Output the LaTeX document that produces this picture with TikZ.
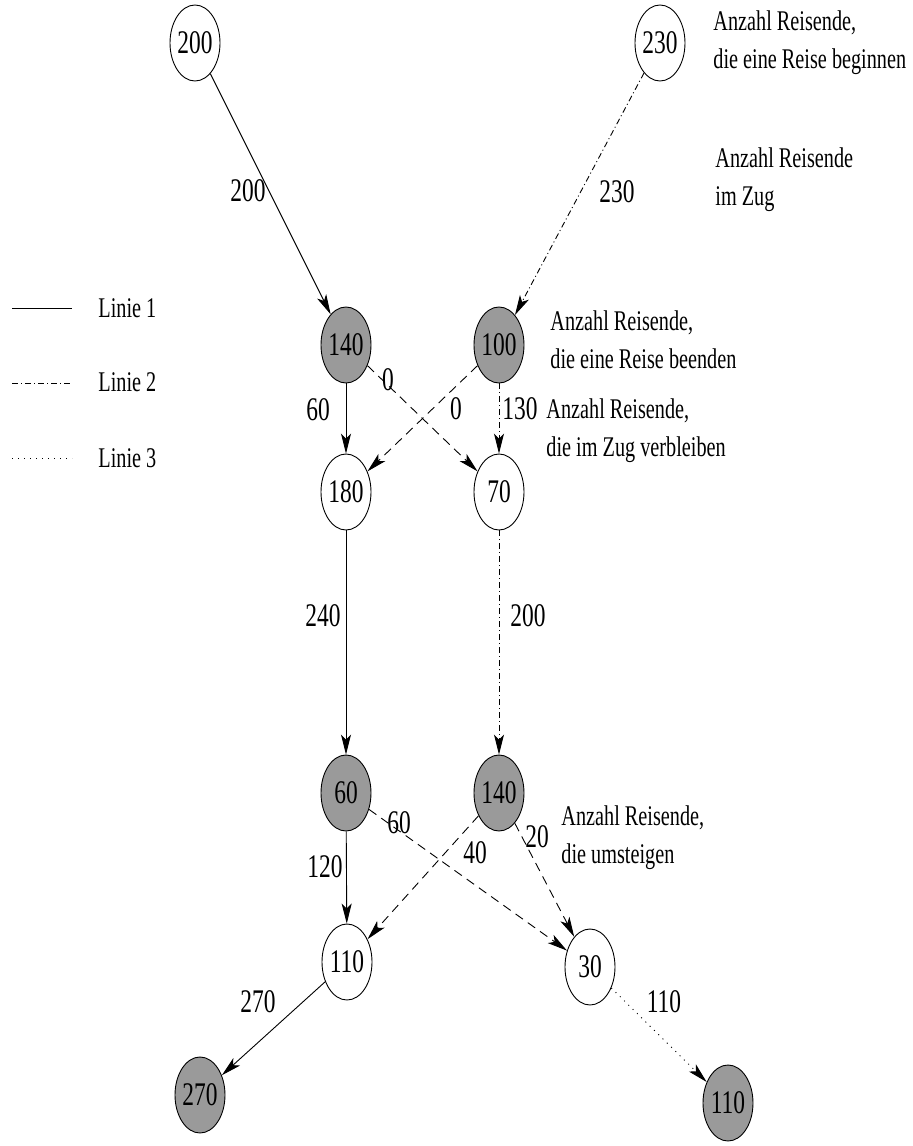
\documentclass[tikz,border=0pt]{standalone}
\usepackage{fontspec}
\setmainfont{Liberation Serif}[FakeStretch=0.71]
\usetikzlibrary{shapes.geometric,arrows.meta}
\definecolor{halt}{RGB}{154,154,154}
\begin{document}
\begin{tikzpicture}[x=1pt, y=-1pt, line width=0.9pt, >={Stealth[length=20pt,width=10pt,inset=5pt]},
	main/.style={draw, ellipse, minimum width=50pt, minimum height=76pt, inner sep=0pt, font=\fontsize{33}{33}\selectfont},
	grau/.style={main, fill=halt},
	zahl/.style={inner sep=0pt, font=\fontsize{33}{33}\selectfont},
	notiz/.style={anchor=base west, align=left, inner sep=0pt, font=\fontsize{28.5}{38}\selectfont},
	linie1/.style={solid},
	linie2/.style={dash pattern=on 6pt off 3pt on 1pt off 3pt},
	linie3/.style={dash pattern=on 1pt off 5pt},
	umstieg/.style={dash pattern=on 9pt off 6pt}]
	\useasboundingbox (0,0) rectangle (913,1146);

	\node[main] at (195,43) (s200) {200};
	\node[main] at (660,43) (s230) {230};
	\node[grau] at (346,345) (h140) {140};
	\node[grau] at (499,345) (h100) {100};
	\node[main] at (346,492) (a180) {180};
	\node[main] at (499,492) (a70) {70};
	\node[grau] at (346,793) (h60) {60};
	\node[grau] at (499,793) (h140b) {140};
	\node[main] at (347,962) (a110) {110};
	\node[main] at (590,967) (a30) {30};
	\node[grau] at (200,1095) (h270) {270};
	\node[grau] at (728,1103) (h110) {110};

	\path[->, linie1] (s200) edge (h140);
	\path[->, linie2] (s230) edge (h100);
	\path[->, linie1] (h140) edge (a180);
	\path[->, umstieg] (h140) edge (a70);
	\path[->, umstieg] (h100) edge (a180);
	\path[->, linie2] (h100) edge (a70);
	\path[->, linie1] (a180) edge (h60);
	\path[->, linie2] (a70) edge (h140b);
	\path[->, linie1] (h60) edge (a110);
	\path[->, umstieg] (h60) edge (a30);
	\path[->, umstieg] (h140b) edge (a110);
	\path[->, umstieg] (h140b) edge (a30);
	\path[->, linie1] (a110) edge (h270);
	\path[->, linie3] (a30) edge (h110);

	\node[zahl] at (248,191) {200};
	\node[zahl] at (617,192) {230};
	\node[zahl] at (318,410) {60};
	\node[zahl] at (388,380) {0};
	\node[zahl] at (456,409) {0};
	\node[zahl] at (520,409) {130};
	\node[zahl] at (323,616) {240};
	\node[zahl] at (528,616) {200};
	\node[zahl] at (399,823) {60};
	\node[zahl] at (475,853) {40};
	\node[zahl] at (537,837) {20};
	\node[zahl] at (325,867) {120};
	\node[zahl] at (258,1002) {270};
	\node[zahl] at (664,1002) {110};

	\node[notiz] at (713,68) {Anzahl Reisende,\\die eine Reise beginnen};
	\node[notiz] at (715,205) {Anzahl Reisende\\im Zug};
	\node[notiz] at (550,368) {Anzahl Reisende,\\die eine Reise beenden};
	\node[notiz] at (546,456) {Anzahl Reisende,\\die im Zug verbleiben};
	\node[notiz] at (561,863) {Anzahl Reisende,\\die umsteigen};

	\draw[linie1] (12,308) -- (72,308);
	\node[notiz] at (98,317) {Linie 1};
	\draw[linie2] (12,383) -- (72,383);
	\node[notiz] at (98,391) {Linie 2};
	\draw[linie3] (12,458) -- (72,458);
	\node[notiz] at (98,467) {Linie 3};
\end{tikzpicture}
\end{document}
